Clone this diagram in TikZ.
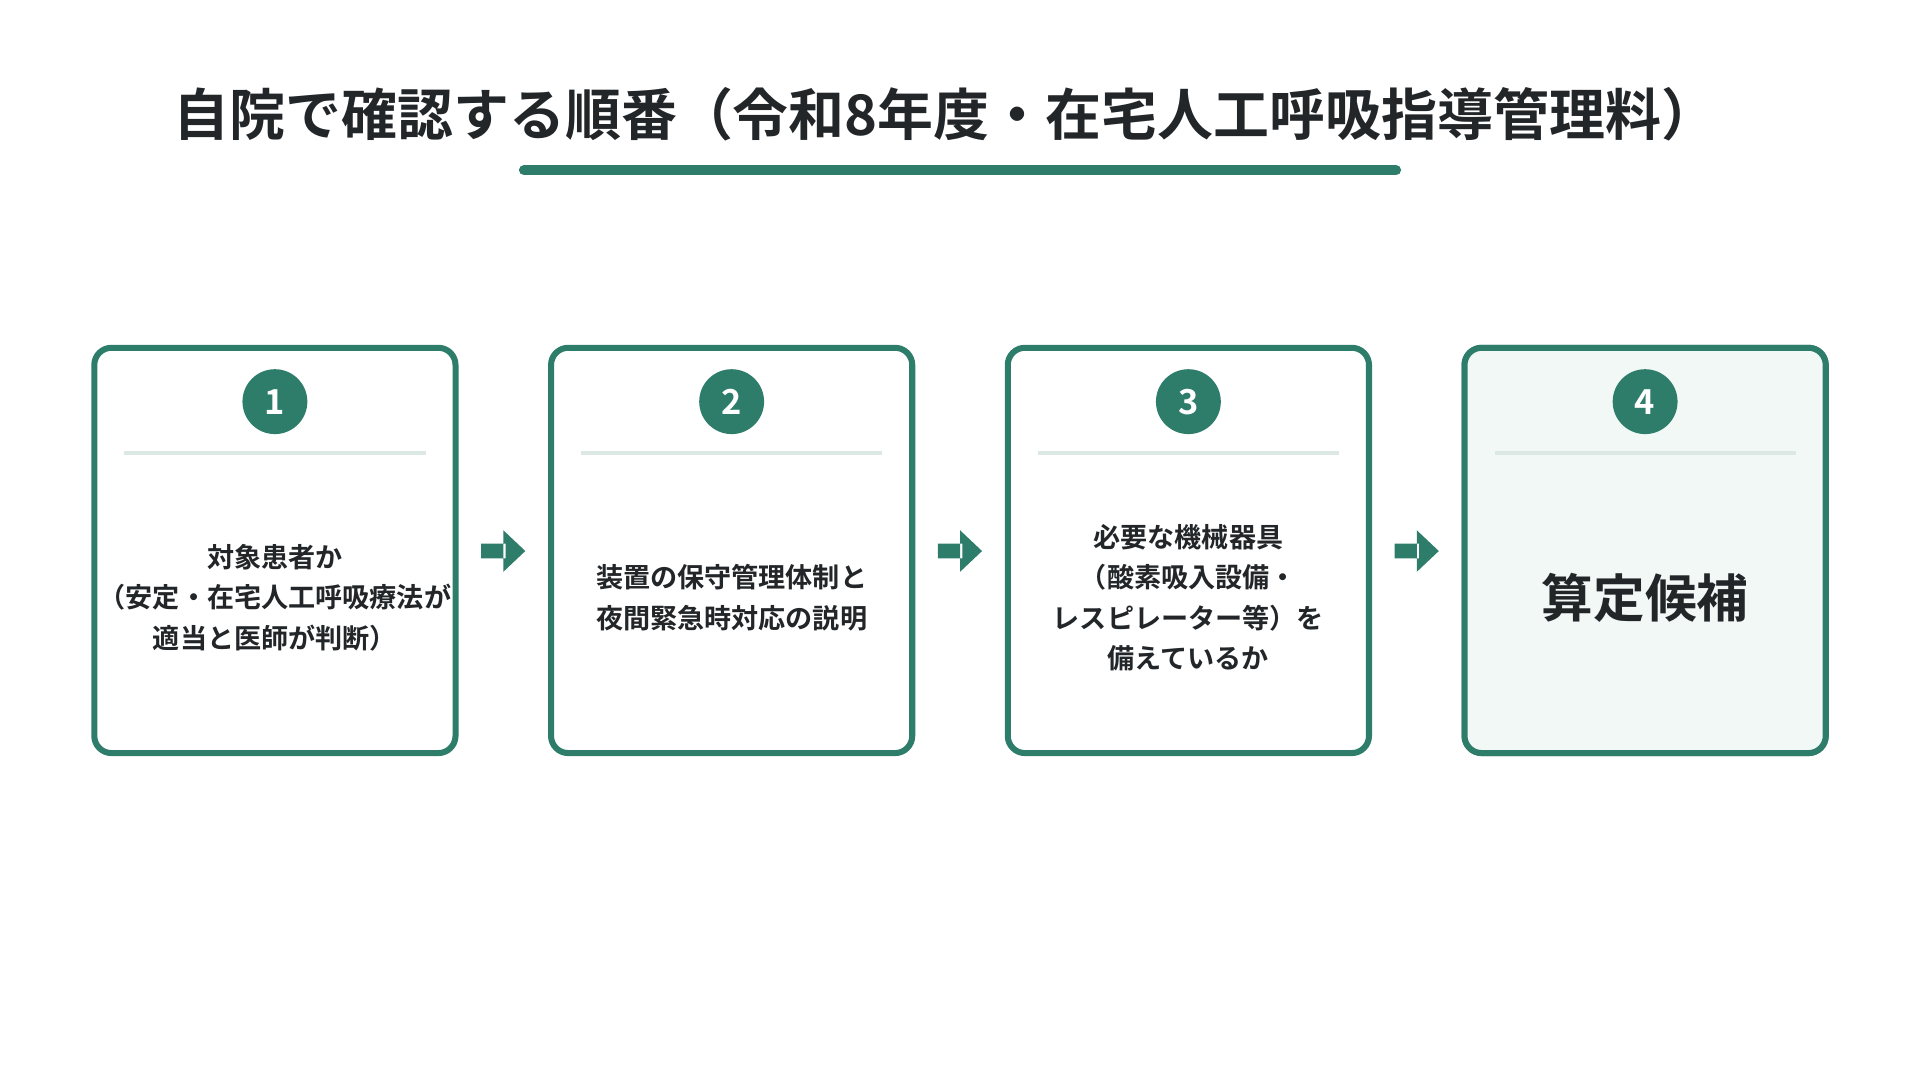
\documentclass[tikz,border=0pt]{standalone}
\usepackage{fontspec}
\setmainfont{Noto Sans CJK JP}[BoldFont={Noto Sans CJK JP Bold}]
\usetikzlibrary{positioning}
\definecolor{stepgreen}{HTML}{2E7D6B}
\definecolor{steptext}{HTML}{222629}
\definecolor{steprule}{HTML}{DCE8E4}
\definecolor{stepfill}{HTML}{F2F8F5}
\begin{document}
\begin{tikzpicture}[
        >=stealth,
        stepbox/.style = {draw=stepgreen, line width=1.4pt, rounded corners=4pt,
                       minimum width=2.95cm, minimum height=3.31cm, fill=white},
        badge/.style = {circle, fill=stepgreen, minimum size=0.53cm, inner sep=0pt,
                        text=white, font=\bfseries\fontsize{8}{8}\selectfont},
        body/.style = {text=steptext, align=center, font=\bfseries\fontsize{6.3}{9.4}\selectfont},
        flow/.style = {fill=stepgreen, draw=none}
    ]
    \useasboundingbox (0,0) rectangle (15.68,8.82);

    % title
    \node[text=steptext, font=\bfseries\fontsize{13}{13}\selectfont] (title) at (7.72,7.89)
        {自院で確認する順番（令和8年度・在宅人工呼吸指導管理料）};
    \draw[stepgreen, line width=2.4pt, line cap=round] (4.28,7.43) -- (11.4,7.43);

    % boxes
    \foreach \i/\x in {1/2.245, 2/5.975, 3/9.705, 4/13.435} {
        \node[stepbox] (box\i) at (\x,4.325) {};
        \node[badge] (num\i) at (\x,5.54) {\i};
        \draw[steprule, line width=0.8pt] (\x-1.23,5.12) -- (\x+1.23,5.12);
    }
    \node[stepbox, fill=stepfill] at (box4) {};
    \node[badge] at (num4) {4};
    \draw[steprule, line width=0.8pt] (12.205,5.12) -- (14.665,5.12);

    % texts
    \node[body] (txt1) at (2.245,3.94) {対象患者か\\（安定・在宅人工呼吸療法が\\適当と医師が判断）};
    \node[body] (txt2) at (5.975,3.94) {装置の保守管理体制と\\夜間緊急時対応の説明};
    \node[body] (txt3) at (9.705,3.94) {必要な機械器具\\（酸素吸入設備・\\レスピレーター等）を\\備えているか};
    \node[text=steptext, font=\bfseries\fontsize{12}{12}\selectfont] (txt4) at (13.435,3.94) {算定候補};

    % arrows
    \foreach \x in {4.11, 7.84, 11.57} {
        \fill[flow] (\x-0.18,4.38) rectangle (\x+0.02,4.26)
                    (\x,4.49) -- (\x+0.18,4.32) -- (\x,4.15) -- cycle;
    }
\end{tikzpicture}
\end{document}
